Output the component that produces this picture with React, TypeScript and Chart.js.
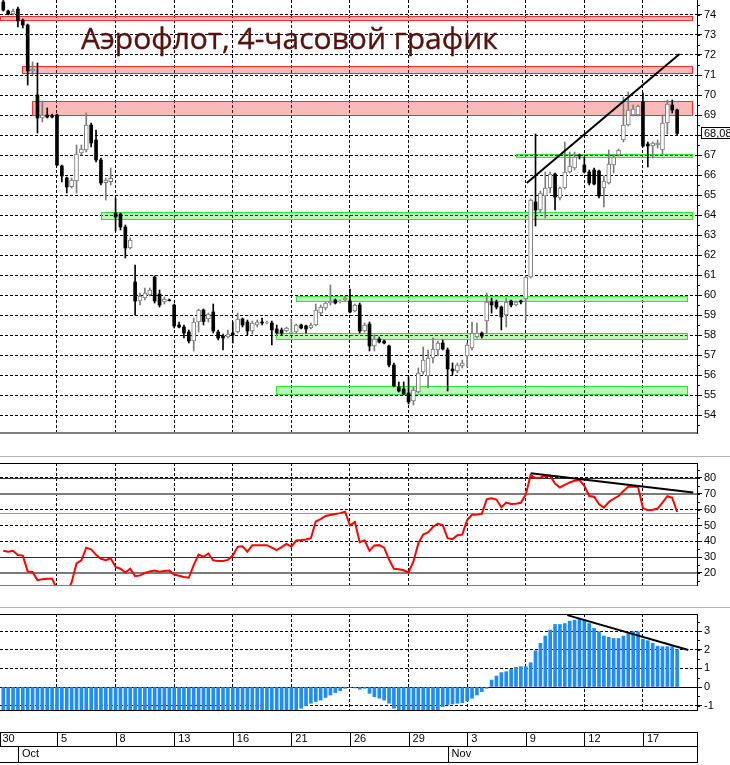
import { useEffect, useRef } from 'react';
import { Chart, registerables } from 'chart.js';

Chart.register(...registerables);
Chart.defaults.font.family = "'Liberation Sans', Arial, sans-serif";

// ---------------- data ----------------
const chartTitle = 'Аэрофлот, 4-часовой график';

// bar index 0 = first 4-hour bar of 30 Sep (4 bars per trading day)
const dateTickIdx = [0, 12, 24, 36, 48, 60, 72, 84, 96, 108, 120, 132];
const dateTickLabels = ['30', '5', '8', '13', '16', '21', '26', '29', '3', '9', '12', '17'];
const monthTickIdx = [4, 92];
const monthLabels = ['Oct', 'Nov'];

const priceTicks = [54, 55, 56, 57, 58, 59, 60, 61, 62, 63, 64, 65, 66, 67, 68, 69, 70, 71, 72, 73, 74];
const rsiTicks = [20, 30, 40, 50, 60, 70, 80];
const histTicks = [-1, 0, 1, 2, 3];
const rsiLevelsDark = [80, 30];
const rsiLevelsGray = [70, 20];
const rsiSignal = [58.1];
const histLevels = [0];

const openP = [
  74.65, 74.2, 74.05, 74.3, 73.75, 73.5, 71.2, 70.0, 68.85, 69.0,
  68.95, 69.0, 66.45, 65.85, 65.42, 65.7, 67.1, 67.25, 68.5, 67.75,
  66.75, 65.62, 65.67, 64.1, 64.05, 63.4, 62.35, 60.65, 59.7, 59.85,
  60.0, 60.9, 60.05, 59.65, 59.75, 59.5, 58.5, 58.4, 58.15, 57.7,
  58.65, 59.25, 58.8, 59.15, 58.15, 57.95, 57.9, 58.1, 58.15, 58.8,
  58.65, 58.2, 58.5, 58.65, 58.6, 58.6, 58.3, 58.25, 58.2, 58.1,
  58.15, 58.5, 58.45, 58.35, 58.5, 59.1, 59.35, 59.6, 59.75, 59.65,
  59.75, 59.7, 59.2, 59.5, 58.2, 58.55, 57.45, 57.8, 57.7, 57.45,
  56.5, 55.4, 55.3, 55.1, 54.7, 55.15, 56.15, 55.95, 56.85, 57.25,
  57.6, 57.25, 56.3, 56.2, 56.45, 56.95, 57.35, 57.9, 58.1, 58.7,
  59.65, 59.65, 59.4, 59.0, 59.7, 59.5, 59.7, 59.8, 60.9, 64.65,
  64.25, 64.95, 65.35, 66.05, 64.85, 65.35, 66.15, 66.35, 67.0, 66.5,
  66.15, 66.25, 66.2, 65.35, 65.6, 66.5, 67.0, 67.75, 68.5, 69.0,
  69.0, 69.65, 67.55, 67.45, 67.5, 67.25, 68.6, 69.5, 69.25,
];
const highP = [
  74.75, 74.25, 74.3, 74.4, 73.8, 73.55, 71.65, 71.6, 69.7, 69.35,
  69.05, 69.05, 66.5, 65.9, 65.85, 67.5, 67.5, 69.1, 68.6, 68.25,
  66.85, 65.85, 66.35, 64.85, 64.1, 63.5, 62.85, 61.5, 60.1, 60.35,
  60.35, 60.95, 60.25, 59.9, 59.8, 59.55, 58.65, 58.5, 58.25, 58.85,
  59.3, 59.3, 59.1, 59.55, 58.25, 58.05, 58.25, 58.65, 59.1, 58.85,
  58.75, 58.7, 58.75, 58.85, 58.7, 58.7, 58.5, 58.35, 58.4, 58.8,
  58.55, 58.55, 58.5, 58.6, 59.55, 59.5, 59.65, 60.5, 59.8, 59.75,
  59.95, 60.3, 59.55, 59.6, 58.6, 58.65, 58.0, 57.9, 57.75, 57.5,
  56.6, 55.65, 55.65, 55.9, 55.4, 56.35, 57.4, 57.25, 57.85, 57.7,
  57.75, 57.35, 56.6, 56.6, 56.75, 57.6, 58.65, 58.6, 58.15, 60.1,
  59.85, 59.75, 59.45, 59.85, 59.75, 59.7, 59.75, 60.95, 64.8, 68.05,
  65.2, 66.15, 66.15, 66.1, 65.4, 67.65, 67.15, 67.15, 67.05, 66.9,
  66.25, 66.35, 66.25, 65.95, 67.25, 67.0, 67.3, 69.9, 70.15, 69.5,
  69.5, 70.1, 67.65, 67.65, 67.75, 69.0, 69.75, 69.75, 69.3,
];
const lowP = [
  74.2, 74.0, 74.0, 73.4, 73.35, 70.5, 71.0, 68.1, 68.65, 68.85,
  68.85, 66.45, 65.65, 65.1, 65.35, 65.1, 67.0, 67.15, 67.4, 66.65,
  65.5, 64.75, 65.5, 63.2, 63.25, 61.85, 62.3, 59.0, 59.5, 59.75,
  59.95, 59.6, 59.4, 59.55, 59.7, 58.35, 58.35, 57.85, 57.6, 57.2,
  58.15, 58.5, 58.65, 58.1, 57.75, 57.25, 57.85, 57.6, 58.1, 58.4,
  58.0, 58.05, 58.4, 58.5, 58.55, 57.5, 58.05, 58.0, 58.15, 58.05,
  58.1, 58.3, 58.1, 58.3, 58.45, 59.0, 59.25, 59.5, 59.55, 59.6,
  59.7, 59.1, 59.15, 58.1, 58.15, 57.2, 57.2, 57.6, 57.55, 56.4,
  55.4, 55.15, 55.0, 54.55, 54.5, 55.1, 56.05, 55.35, 56.6, 56.95,
  57.25, 55.2, 56.0, 56.1, 56.35, 56.4, 57.25, 57.85, 57.85, 58.1,
  59.1, 59.3, 58.25, 58.4, 59.4, 59.45, 59.55, 58.75, 60.85, 63.45,
  64.15, 63.85, 65.1, 64.25, 64.75, 65.3, 66.1, 66.25, 66.8, 66.1,
  65.5, 65.5, 64.85, 64.4, 65.55, 66.1, 66.95, 67.65, 68.45, 68.95,
  68.95, 67.4, 66.4, 66.85, 67.35, 67.05, 68.05, 69.1, 68.0,
];
const closeP = [
  74.25, 74.05, 74.2, 73.7, 73.5, 71.2, 71.3, 68.85, 69.0, 68.9,
  68.9, 66.5, 65.95, 65.4, 65.75, 67.05, 67.3, 68.5, 67.6, 66.75,
  65.6, 65.75, 65.83, 63.9, 63.4, 62.35, 62.75, 59.7, 59.95, 60.1,
  60.25, 59.7, 59.5, 59.8, 59.72, 58.45, 58.4, 58.1, 57.7, 58.65,
  59.25, 58.67, 59.05, 58.2, 57.85, 57.85, 58.05, 58.0, 58.8, 58.5,
  58.2, 58.6, 58.65, 58.6, 58.62, 58.25, 58.1, 58.1, 58.35, 58.15,
  58.5, 58.35, 58.3, 58.5, 59.25, 59.4, 59.6, 59.7, 59.6, 59.7,
  59.85, 59.15, 59.5, 58.2, 58.5, 57.45, 57.8, 57.65, 57.6, 56.5,
  55.45, 55.2, 55.05, 54.65, 55.25, 56.1, 56.75, 56.85, 57.3, 57.6,
  57.3, 56.3, 56.2, 56.5, 56.6, 57.5, 58.1, 58.1, 57.95, 59.65,
  59.5, 59.4, 58.9, 59.65, 59.5, 59.65, 59.65, 60.9, 64.75, 64.25,
  65.1, 65.35, 66.05, 64.9, 65.35, 66.15, 66.45, 66.9, 66.95, 66.15,
  65.6, 65.55, 64.95, 65.7, 66.55, 66.9, 67.25, 68.5, 69.25, 69.3,
  69.45, 67.45, 67.45, 67.6, 67.6, 68.6, 69.55, 69.25, 68.08,
];

const rsi = [
  34, 33.4, 34, 31.3, 31, 21, 20.7, 15.5, 16, 16.3,
  16.3, 10, 7, 8, 14, 26, 28, 36, 35, 31.5,
  29, 28.1, 29.3, 23.8, 22.7, 20.3, 22.7, 18, 18.5, 20,
  21, 21.5, 20.8, 21.2, 21.5, 19, 18.3, 17.5, 17, 25,
  31.7, 30.2, 32.3, 28, 27.5, 27.5, 28.3, 31, 36.5, 36.9,
  33.5, 37.5, 37.6, 37.6, 37.6, 36, 34.4, 36.3, 38.4, 36.6,
  40.5, 40.8, 41.2, 42, 52.5, 54, 56, 56.6, 57.2, 57.8,
  58.7, 50, 52.3, 39.5, 40.7, 34, 37.4, 37.6, 36, 28.5,
  22.7, 22.3, 21.7, 20.3, 27.3, 38.7, 44.3, 45.6, 49.1, 51.2,
  50.2, 42, 41.4, 43.8, 44.2, 53.5, 56.8, 57, 57.3, 66.5,
  67.2, 66.4, 61.5, 64.5, 63.6, 63.8, 64.3, 69.5, 81.8, 80,
  80.3, 81.3, 81.4, 76.5, 74, 75.6, 77.2, 78.2, 78.7, 75,
  68.6, 68.2, 63.5, 61.2, 64.8, 66.9, 68.6, 71.8, 74.5, 74.6,
  74.3, 61, 59.7, 60, 60.7, 64.4, 68.5, 67.5, 58.5,
];

const hist = [
  -1.9, -1.9, -1.95, -2.0, -2.05, -2.2, -2.35, -2.5, -2.6, -2.7,
  -2.8, -2.9, -3.0, -3.1, -3.1, -3.0, -3.0, -2.95, -2.9, -2.9,
  -2.9, -2.9, -2.95, -3.0, -3.1, -3.2, -3.3, -3.4, -3.45, -3.5,
  -3.5, -3.5, -3.5, -3.45, -3.4, -3.4, -3.35, -3.3, -3.25, -3.2,
  -3.1, -3.0, -2.9, -2.8, -2.75, -2.7, -2.6, -2.5, -2.4, -2.3,
  -2.2, -2.1, -2.0, -1.9, -1.8, -1.7, -1.6, -1.5, -1.45, -1.38,
  -1.3, -1.14, -1.0, -0.87, -0.78, -0.7, -0.56, -0.43, -0.3, -0.2,
  -0.07, -0.02, -0.05, -0.12, -0.07, -0.34, -0.52, -0.6, -0.7, -0.87,
  -1.14, -1.35, -1.45, -1.5, -1.55, -1.5, -1.45, -1.4, -1.3, -1.28,
  -1.05, -0.96, -0.91, -0.87, -0.84, -0.75, -0.6, -0.43, -0.25, -0.07,
  0.37, 0.59, 0.77, 0.82, 0.94, 1.05, 1.09, 1.09, 1.3, 1.94,
  2.34, 2.73, 3.05, 3.35, 3.35, 3.4, 3.53, 3.58, 3.67, 3.62,
  3.4, 3.14, 2.96, 2.73, 2.66, 2.6, 2.6, 2.73, 2.87, 2.96,
  2.96, 2.55, 2.48, 2.34, 2.19, 2.16, 2.16, 2.16, 2.01,
];

// support / resistance zones: bar range and price range
const redZones = [
  { from: 0.33, to: 142.0, lo: 73.75, hi: 73.97 },
  { from: 4.83, to: 142.0, lo: 71.08, hi: 71.45 },
  { from: 6.88, to: 142.0, lo: 69.0, hi: 69.7 },
];
const greenZones = [
  { from: 21.0, to: 142.0, lo: 63.8, hi: 64.13 },
  { from: 106.0, to: 142.0, lo: 66.88, hi: 67.05 },
  { from: 60.9, to: 141.0, lo: 59.72, hi: 59.97 },
  { from: 56.85, to: 141.0, lo: 57.81, hi: 58.11 },
  { from: 56.85, to: 141.0, lo: 55.05, hi: 55.45 },
];

const priceTrend = [{ x: 108.2, y: 65.6 }, { x: 139.5, y: 72.05 }];
const rsiTrend = [{ x: 109.0, y: 83.0 }, { x: 142.3, y: 70.9 }];
const histTrend = [{ x: 116.5, y: 3.85 }, { x: 141.3, y: 1.98 }];

// ---------------- helpers ----------------
const X_MIN = 0.33;
const X_MAX = 143.07;
const AXIS_FONT = { family: "'Liberation Sans', Arial, sans-serif", size: 11 };
const DASH = [3, 2];

const setTicks = (vals: number[]) => (scale: any) => {
  scale.ticks = vals.map((v) => ({ value: v }));
};

const fitX = (h: number) => (s: any) => {
  s.height = h;
  s.paddingLeft = 0;
  s.paddingRight = 0;
};

const xGridScale = (extra: any = {}) => ({
  type: 'linear',
  min: X_MIN,
  max: X_MAX,
  offset: false,
  afterBuildTicks: setTicks(dateTickIdx),
  afterFit: fitX(0),
  ticks: { display: false, autoSkip: false },
  grid: { color: '#000', lineWidth: 1, drawTicks: false, offset: false },
  border: { display: true, color: '#808080', width: 1, dash: DASH },
  ...extra,
});

const yRightScale = (min: number, max: number, ticks: number[]) => ({
  type: 'linear',
  position: 'right',
  min,
  max,
  afterBuildTicks: setTicks(ticks),
  afterFit: (s: any) => { s.width = 33; s.paddingTop = 0; s.paddingBottom = 0; },
  ticks: { color: '#000', font: AXIS_FONT, padding: 2, autoSkip: false },
  grid: { color: '#000', lineWidth: 1, tickLength: 5, tickColor: '#000', drawTicks: true },
  border: { display: true, color: '#000', width: 1, dash: DASH },
});

const minorTicksPlugin = (step: number) => ({
  id: 'minorTicks',
  afterDraw(chart: any) {
    const { ctx, chartArea } = chart;
    const y = chart.scales.y;
    ctx.save();
    ctx.strokeStyle = '#000';
    ctx.lineWidth = 1;
    ctx.beginPath();
    const start = Math.ceil(y.min / step) * step;
    for (let v = start; v <= y.max + 1e-9; v += step) {
      const p = Math.round(y.getPixelForValue(v)) + 0.5;
      ctx.moveTo(chartArea.right, p);
      ctx.lineTo(chartArea.right + 3, p);
    }
    ctx.stroke();
    ctx.restore();
  },
});

const levelPlugin = (levels: { values: number[]; color: string; width: number }[]) => ({
  id: 'levels',
  beforeDatasetsDraw(chart: any) {
    const { ctx, chartArea } = chart;
    const y = chart.scales.y;
    ctx.save();
    levels.forEach((l) => {
      ctx.strokeStyle = l.color;
      ctx.lineWidth = l.width;
      l.values.forEach((v) => {
        const raw = y.getPixelForValue(v);
        const p = l.width % 2 === 1 ? Math.round(raw) + 0.5 : Math.round(raw);
        ctx.beginPath();
        ctx.moveTo(chartArea.left, p);
        ctx.lineTo(chartArea.right, p);
        ctx.stroke();
      });
    });
    ctx.restore();
  },
});

const framePlugin = (topColor: string | null) => ({
  id: 'frame',
  afterDraw(chart: any) {
    const { ctx, chartArea } = chart;
    if (!topColor) return;
    ctx.save();
    ctx.lineWidth = 1;
    ctx.strokeStyle = topColor;
    ctx.beginPath();
    ctx.moveTo(chartArea.left, chartArea.top + 0.5);
    ctx.lineTo(chartArea.right + 1, chartArea.top + 0.5);
    ctx.stroke();
    ctx.restore();
  },
});

const zonePlugin = {
  id: 'zones',
  beforeDatasetsDraw(chart: any) {
    const { ctx, chartArea } = chart;
    const x = chart.scales.x;
    const y = chart.scales.y;
    ctx.save();
    ctx.beginPath();
    ctx.rect(chartArea.left, chartArea.top, chartArea.width, chartArea.height);
    ctx.clip();
    const draw = (zones: any[], fill: string, stroke: string) => {
      zones.forEach((z) => {
        const x1 = Math.round(x.getPixelForValue(z.from)) + 0.5;
        const x2 = Math.round(x.getPixelForValue(z.to)) + 0.5;
        const y1 = Math.round(y.getPixelForValue(z.hi)) + 0.5;
        const y2 = Math.round(y.getPixelForValue(z.lo)) + 0.5;
        ctx.fillStyle = fill;
        ctx.fillRect(x1, y1, x2 - x1, y2 - y1);
        ctx.strokeStyle = stroke;
        ctx.lineWidth = 1;
        ctx.strokeRect(x1, y1, x2 - x1, y2 - y1);
      });
    };
    draw(redZones, 'rgba(240, 40, 40, 0.32)', '#ff2a2a');
    draw(greenZones, 'rgba(40, 225, 40, 0.32)', '#2ee62e');
    ctx.restore();
  },
};

const lastPricePlugin = {
  id: 'lastPrice',
  afterDraw(chart: any) {
    const { ctx, chartArea } = chart;
    const y = chart.scales.y;
    const last = closeP[closeP.length - 1];
    const p = Math.round(y.getPixelForValue(last));
    ctx.save();
    ctx.fillStyle = '#fff';
    ctx.fillRect(chartArea.right + 5, p - 5, 40, 11);
    ctx.strokeStyle = '#000';
    ctx.lineWidth = 1;
    ctx.strokeRect(chartArea.right + 4.5, p - 5.5, 40, 11);
    ctx.fillStyle = '#000';
    ctx.font = "11px 'Liberation Sans', Arial, sans-serif";
    ctx.textBaseline = 'middle';
    ctx.textAlign = 'left';
    ctx.fillText(last.toFixed(2).replace('.', ','), chartArea.right + 7, p + 0.5);
    ctx.restore();
  },
};

const dateAxisPlugin = {
  id: 'dateAxis',
  afterDraw(chart: any) {
    const { ctx, chartArea } = chart;
    const x = chart.scales.x;
    const x2 = chart.scales.x2;
    const row1Top = Math.round(x.top + 22) + 0.5;
    const row1Bottom = Math.round(x2.top) + 0.5;
    const row2Bottom = row1Bottom + 16;
    ctx.save();
    ctx.strokeStyle = '#000';
    ctx.lineWidth = 1;
    ctx.beginPath();
    ctx.moveTo(0, row1Top);
    ctx.lineTo(chartArea.right + 1, row1Top);
    ctx.moveTo(0, row2Bottom);
    ctx.lineTo(chartArea.right + 1, row2Bottom);
    dateTickIdx.forEach((v) => {
      const px = Math.max(0.5, Math.round(x.getPixelForValue(v)) + 0.5);
      ctx.moveTo(px, row1Top);
      ctx.lineTo(px, row1Bottom);
    });
    monthTickIdx.forEach((v) => {
      const px = Math.round(x2.getPixelForValue(v)) + 0.5;
      ctx.moveTo(px, row1Bottom);
      ctx.lineTo(px, row2Bottom);
    });
    const r = Math.round(chartArea.right) + 0.5;
    ctx.moveTo(r, row1Top);
    ctx.lineTo(r, row2Bottom);
    ctx.stroke();
    ctx.restore();
  },
};

const baseOptions = (padTop: number, padBottom: number) => ({
  animation: false,
  responsive: false,
  maintainAspectRatio: false,
  layout: { padding: { top: padTop, bottom: padBottom, left: 0, right: 0 } },
  plugins: { legend: { display: false }, tooltip: { enabled: false } },
});

export default function App() {
  const mainRef = useRef<HTMLCanvasElement>(null);
  const rsiRef = useRef<HTMLCanvasElement>(null);
  const histRef = useRef<HTMLCanvasElement>(null);

  useEffect(() => {
    const bars = openP.map((_, k) => k + 1);
    const upBodies: any[] = [];
    const downBodies: any[] = [];
    bars.forEach((b, k) => {
      const d = { x: b, y: [openP[k], closeP[k]] };
      if (closeP[k] >= openP[k]) upBodies.push(d);
      else downBodies.push(d);
    });
    const wicks = bars.map((b, k) => ({ x: b, y: [lowP[k], highP[k]] }));
    const wickColors = bars.map((_, k) => (closeP[k] >= openP[k] ? '#7a7a7a' : '#000000'));

    const main = new Chart(mainRef.current as HTMLCanvasElement, {
      type: 'bar',
      data: {
        datasets: [
          { type: 'line', data: priceTrend, borderColor: '#000', borderWidth: 2, pointRadius: 0, order: 0 } as any,
          { type: 'bar', data: upBodies, backgroundColor: '#fff', borderColor: '#7a7a7a', borderWidth: 1, borderSkipped: false, barThickness: 4, grouped: false, order: 1 } as any,
          { type: 'bar', data: downBodies, backgroundColor: '#000', borderWidth: 0, barThickness: 3, grouped: false, order: 1 } as any,
          { type: 'bar', data: wicks, backgroundColor: wickColors, borderWidth: 0, barThickness: 1, grouped: false, order: 2 } as any,
        ],
      },
      options: {
        ...baseOptions(0, 3),
        scales: {
          x: xGridScale({ border: { display: true, color: '#808080', width: 2, dash: DASH } }),
          y: yRightScale(53.1, 74.75, priceTicks),
        } as any,
      } as any,
      plugins: [zonePlugin, minorTicksPlugin(0.5), lastPricePlugin],
    });

    const rsiChart = new Chart(rsiRef.current as HTMLCanvasElement, {
      type: 'line',
      data: {
        datasets: [
          { data: rsiTrend, borderColor: '#000', borderWidth: 2, pointRadius: 0, order: 0 },
          { data: bars.map((b, k) => ({ x: b, y: rsi[k] })), borderColor: '#ff0000', borderWidth: 2, pointRadius: 0, tension: 0, order: 1 },
        ] as any,
      },
      options: {
        ...baseOptions(7, 4),
        scales: {
          x: xGridScale(),
          y: yRightScale(12.42, 89.47, rsiTicks),
        } as any,
      } as any,
      plugins: [
        levelPlugin([
          { values: rsiLevelsDark, color: '#303030', width: 1 },
          { values: rsiLevelsGray, color: '#7c7c7c', width: 2 },
          { values: rsiSignal, color: '#5aa8f5', width: 1 },
        ]),
        framePlugin('#000'),
        minorTicksPlugin(5),
      ],
    });

    const histChart = new Chart(histRef.current as HTMLCanvasElement, {
      type: 'bar',
      data: {
        datasets: [
          { type: 'line', data: histTrend, borderColor: '#000', borderWidth: 2, pointRadius: 0, order: 0 } as any,
          { type: 'bar', data: bars.map((b, k) => ({ x: b, y: hist[k] })), backgroundColor: '#1e8cff', borderWidth: 0, barThickness: 3, grouped: false, order: 1 } as any,
        ],
      },
      options: {
        ...baseOptions(14, 0),
        scales: {
          x: {
            type: 'linear',
            position: 'bottom',
            weight: 0,
            min: X_MIN,
            max: X_MAX,
            offset: false,
            afterBuildTicks: setTicks(dateTickIdx),
            afterFit: fitX(36),
            ticks: {
              display: true,
              autoSkip: false,
              maxRotation: 0,
              align: 'start',
              labelOffset: 4,
              padding: 22.4,
              color: '#000',
              font: AXIS_FONT,
              callback: (v: any) => dateTickLabels[dateTickIdx.indexOf(Number(v))] ?? '',
            },
            grid: { color: '#000', lineWidth: 1, drawTicks: false, offset: false },
            border: { display: true, color: '#000', width: 1, dash: DASH },
          },
          x2: {
            type: 'linear',
            position: 'bottom',
            weight: 1,
            min: X_MIN,
            max: X_MAX,
            offset: false,
            afterBuildTicks: setTicks(monthTickIdx),
            afterFit: fitX(19),
            ticks: {
              display: true,
              autoSkip: false,
              maxRotation: 0,
              align: 'start',
              labelOffset: 4,
              padding: 1.4,
              color: '#000',
              font: AXIS_FONT,
              callback: (v: any) => monthLabels[monthTickIdx.indexOf(Number(v))] ?? '',
            },
            grid: { display: false, drawTicks: false },
            border: { display: true, color: '#000', width: 1 },
          },
          y: yRightScale(-1.232, 3.911, histTicks),
        } as any,
      } as any,
      plugins: [
        levelPlugin([{ values: histLevels, color: '#000', width: 1 }]),
        framePlugin('#000'),
        minorTicksPlugin(0.5),
        dateAxisPlugin,
      ],
    });

    return () => {
      main.destroy();
      rsiChart.destroy();
      histChart.destroy();
    };
  }, []);

  return (
    <div style={{ position: 'absolute', left: 0, top: 0, width: 730, height: 765, background: '#fff', overflow: 'hidden' }}>
      <canvas ref={mainRef} width={730} height={436} style={{ position: 'absolute', left: 0, top: 0 }} />
      <canvas ref={rsiRef} width={730} height={133} style={{ position: 'absolute', left: 0, top: 456 }} />
      <canvas ref={histRef} width={730} height={165} style={{ position: 'absolute', left: 0, top: 600 }} />
      <div style={{ position: 'absolute', left: 0, top: 456, width: 730, height: 1, background: '#b4b4b4' }} />
      <div style={{ position: 'absolute', left: 0, top: 607, width: 730, height: 1, background: '#b4b4b4' }} />
      <div
        style={{
          position: 'absolute',
          left: 81,
          top: 23,
          fontFamily: "'Open Sans', sans-serif",
          fontSize: 30,
          lineHeight: '30px',
          color: '#55120e',
          WebkitTextStroke: '0.35px #55120e',
          whiteSpace: 'nowrap',
        }}
      >
        {chartTitle}
      </div>
    </div>
  );
}
